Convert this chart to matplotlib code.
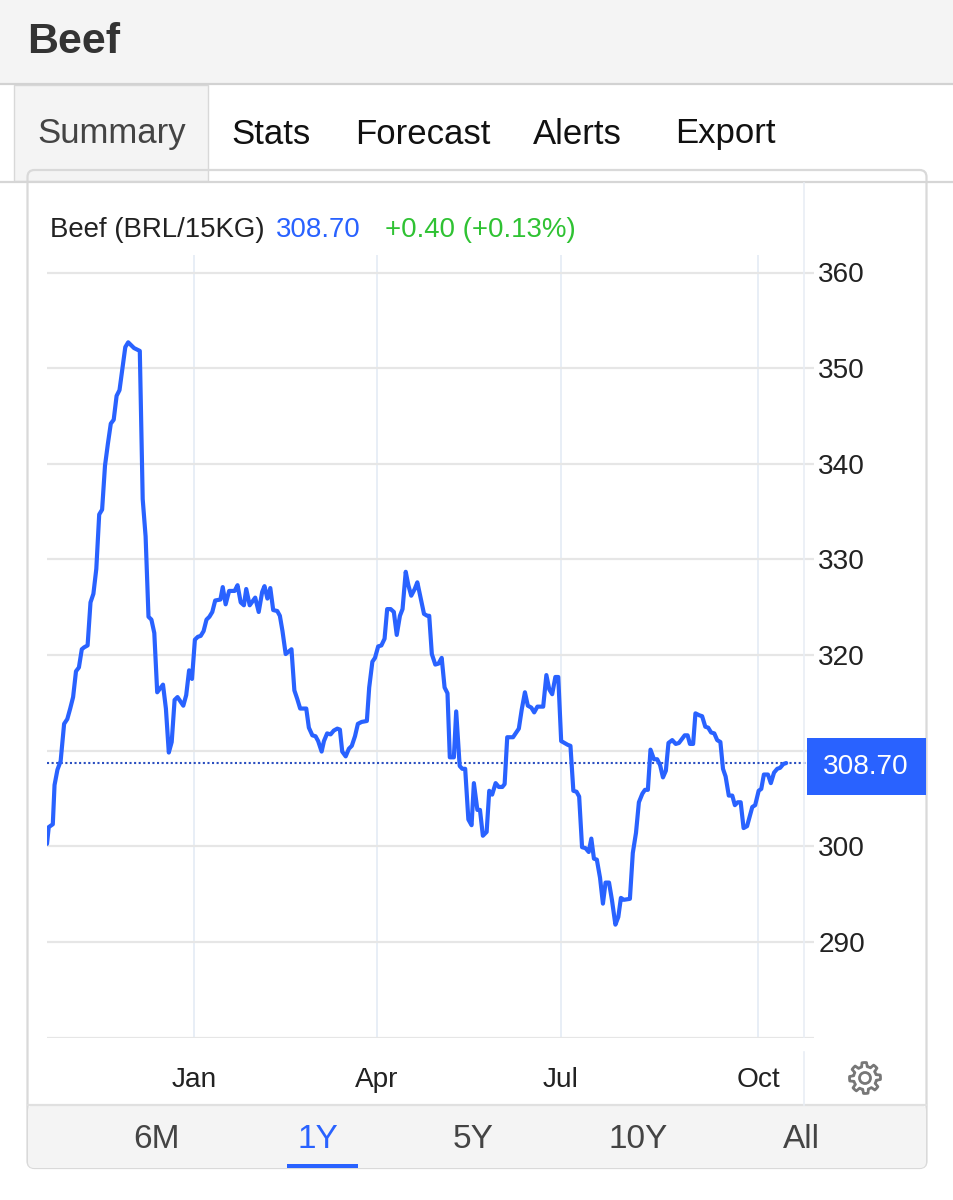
import numpy as np
import matplotlib
matplotlib.use("Agg")
import matplotlib.pyplot as plt
from matplotlib.patches import Rectangle, FancyBboxPatch, Polygon, Circle

plt.rcParams["font.family"] = ["Liberation Sans", "DejaVu Sans"]

BLUE = "#2962ff"
GREEN = "#2fc233"
INK = "#222222"

# Daily price series: session number within the one-year window, and price in BRL/15KG
sessions = [0, 0.6, 2, 2.6, 3.6, 4.7, 5.9, 7, 8, 9, 10, 11, 12, 12.8, 14, 15, 16, 17, 18, 19, 20, 21, 22, 23, 24, 25,
            27, 28, 30, 32, 33, 34, 35, 36, 37, 38, 40, 41, 42, 43, 44, 45, 47, 48, 49, 50, 51, 52, 53, 54, 55, 56,
            57, 58, 59.8, 60.6, 61.6, 62.8, 64.7, 65.7, 66.8, 67.9, 68.7, 69.9, 71.8, 73, 74.2, 75, 76, 77, 78, 79.4,
            80.3, 81.2, 82.3, 84.3, 85.3, 86.3, 87.3, 89.4, 90.3, 91.5, 92.6, 93.5, 94.7, 95.5, 96.6, 97.8, 98.9,
            100.1, 101, 101.8, 103, 104.1, 105.1, 106.2, 107.2, 108.5, 110.3, 111.1, 112.2, 113.1, 114.2, 115.3,
            116.4, 117.3, 118.5, 119.6, 120.6, 121.7, 122.6, 123.7, 124.6, 125.6, 126.8, 127.7, 128.8, 130, 131.1,
            131.8, 132.7, 133.9, 135, 136.1, 137.1, 138.1, 138.9, 140.3, 141.1, 142.3, 143.2, 144.2, 145.3, 146.4,
            147.2, 148.4, 149.3, 150.3, 151.6, 152.5, 153.5, 154.7, 155.8, 157, 157.8, 158.7, 160.7, 162.7, 163.7,
            164.8, 165.8, 167, 168, 169.1, 171.1, 172.2, 173.2, 174.2, 175.3, 176.3, 177.3, 179.6, 180.5, 181.5,
            182.6, 183.5, 184.5, 185.7, 186.8, 187.7, 188.6, 189.6, 190.7, 191.7, 192.6, 193.8, 194.8, 196, 197,
            197.9, 198.9, 201, 202, 203.1, 204.1, 205.3, 206.2, 207.2, 208.1, 209.3, 210.4, 211.4, 212.4, 213.4,
            214.3, 215.6, 216.8, 217.9, 219.9, 220.9, 221.7, 222.8, 223.6, 224.9, 225.9, 227, 228, 229, 230.1,
            231.1, 232.2, 233.1, 234, 235.1, 236.3, 237.2, 238.2, 239.2, 240.2, 241.4, 243.2, 244.2, 245.4, 246.3,
            247.2, 248.6, 249.6, 250.7, 251.8, 252.8, 253.9, 254.9]
prices = [300.25, 302.0, 302.3, 306.4, 308.0, 308.9, 312.8, 313.3, 314.4, 315.6, 318.3, 318.7, 320.6, 320.8, 321.0,
          325.5, 326.4, 329.0, 334.7, 335.2, 339.8, 342.1, 344.2, 344.6, 347.1, 347.7,
          352.2, 352.7, 352.1, 351.8, 336.3, 332.4, 324.0, 323.7, 322.3, 316.1, 316.9, 314.4, 309.8, 310.9, 315.3,
          315.6, 314.7, 315.8, 318.4, 317.5, 321.6, 321.9, 322.0, 322.5, 323.7, 324.0,
          324.5, 325.7, 325.8, 327.1, 325.3, 326.7, 326.7, 327.3, 325.5, 325.2, 326.9, 325.2, 326.0, 324.5, 326.6,
          327.2, 325.9, 327.0, 324.7, 324.6,
          324.1, 322.5, 320.1, 320.6, 316.3, 315.4, 314.4, 314.4, 312.4, 311.6, 311.5, 311.0, 309.9, 311.0, 311.8,
          311.7, 312.1,
          312.3, 312.2, 309.9, 309.4, 310.2, 310.5, 311.5, 312.8, 313.0, 313.1, 316.6, 319.3, 319.7, 320.9, 321.0,
          321.7, 324.8, 324.8, 324.5, 322.1, 324.1, 324.8, 328.7, 327.3, 326.2, 326.9, 327.6, 326.0, 324.3, 324.1,
          324.1, 320.1, 319.0, 319.1, 319.7, 316.6, 316.0, 309.3, 309.3, 314.1, 308.4, 308.1, 308.1, 302.8, 302.2,
          306.6, 303.8, 303.8, 301.1, 301.5, 305.8, 305.4, 306.6, 306.2, 306.2, 306.5, 311.4, 311.4, 312.3, 314.3,
          316.1, 314.7, 314.5, 314.0, 314.6, 314.6, 317.9, 316.4, 315.9, 317.7, 317.7, 311.0, 310.6, 310.5, 305.8,
          305.7, 305.2, 299.9, 299.8, 299.4, 300.8, 298.7, 298.6, 296.7, 294.0, 296.2, 296.2, 294.4, 291.8, 292.6,
          294.6, 294.4, 294.5, 299.3, 301.4, 304.6, 305.5, 305.9, 305.9, 310.1, 309.1, 309.1, 308.5, 307.2, 307.9,
          310.8, 311.1, 310.7, 310.8, 311.6, 311.6, 310.7, 310.7, 313.9, 313.7, 313.6, 312.5, 312.4, 311.9, 311.8,
          311.1, 310.9, 308.1, 307.3, 305.3, 305.3, 304.3, 304.6, 304.6, 301.9, 302.1, 304.1, 304.3, 305.8, 306.0,
          307.5, 307.5, 306.6, 307.7, 308.1, 308.2, 308.6, 308.7]

last_price = 308.70
month_ticks = [50.7, 113.8, 177.2, 245.2]
month_labels = ["Jan", "Apr", "Jul", "Oct"]
price_ticks = [280, 290, 300, 310, 320, 330, 340, 350, 360]
price_labels = ["", "290", "300", "", "320", "330", "340", "350", "360"]
tabs = ["Stats", "Forecast", "Alerts", "Export"]
ranges = ["6M", "1Y", "5Y", "10Y", "All"]

W, H = 954, 1200
fig = plt.figure(figsize=(W / 100, H / 100), dpi=100, facecolor="white")

# Page furniture is laid out in a full-figure axes measured in pixels
ui = fig.add_axes([0, 0, 1, 1], zorder=1)
ui.set_xlim(0, W)
ui.set_ylim(H, 0)
ui.axis("off")

ui.add_patch(Rectangle((0, 0), W, 84, fc="#f4f4f4", ec="none"))
ui.plot([0, W], [84, 84], color="#d2d2d2", lw=1.6)
ui.plot([0, W], [181.5, 181.5], color="#d6d6d6", lw=1.6)
ui.add_patch(Rectangle((14, 85), 194, 96, fc="#f4f4f4", ec="#d8d8d8", lw=1.0))
ui.text(27, 42, "Beef", fontsize=31, fontweight="bold", color="#333333", va="center", ha="left")
ui.text(37, 134, "Summary", fontsize=25, color="#444444", va="center", ha="left")
for label, x in zip(tabs, [231, 355, 533, 675]):
    ui.text(x, 134, label, fontsize=25, color="#111111", va="center", ha="left")

# Card outline and range selector
ui.add_patch(FancyBboxPatch((27.5, 170), 899, 998, boxstyle="round,pad=0,rounding_size=7",
                            fc="none", ec="#d9d9d9", lw=1.6, zorder=1))
ui.add_patch(Rectangle((0, 120), 0, 0, fc="none", ec="none"))
ui.add_patch(FancyBboxPatch((28, 1105), 898, 63, boxstyle="round,pad=0,rounding_size=6",
                            fc="#f4f4f4", ec="none", zorder=1))
ui.plot([28, 926], [1105, 1105], color="#e0e0e0", lw=1.6)
for label, x in zip(ranges, [156.5, 318, 473, 638, 801]):
    ui.text(x, 1140, label, fontsize=24, ha="center", va="center",
            color=BLUE if label == "1Y" else "#444444")
ui.add_patch(Rectangle((287, 1164), 71, 4, fc=BLUE, ec="none"))

# Vertical divider in front of the price scale
ui.plot([804.5, 804.5], [183, 1037], color="#e9eef5", lw=1.2)
ui.plot([804.5, 804.5], [1052, 1105], color="#e9eef5", lw=1.2)

# Legend row
ui.text(50, 230, "Beef (BRL/15KG)", fontsize=19.9, color=INK, va="center", ha="left")
ui.text(276, 230, "308.70", fontsize=19.9, color=BLUE, va="center", ha="left")
ui.text(385, 230, "+0.40 (+0.13%)", fontsize=19.9, color=GREEN, va="center", ha="left")

# Settings gear
n_teeth = 8
theta = np.linspace(0, 2 * np.pi, n_teeth * 8, endpoint=False)
phase = (theta * n_teeth / (2 * np.pi)) % 1
rad = np.where((phase < 0.3) | (phase > 0.8), 15.5, 11.5)
ui.add_patch(Polygon(np.c_[865 + rad * np.sin(theta), 1078 + rad * np.cos(theta)], closed=True,
                     fc="none", ec="#777777", lw=2.0, joinstyle="round"))
ui.add_patch(Circle((865, 1078), 5.5, fc="none", ec="#777777", lw=2.0))

# Price chart
ax = fig.add_axes([47 / W, 1 - 1037.5 / H, (814 - 47) / W, (1037.5 - 255) / H], zorder=2)
ax.patch.set_alpha(0)
ax.set_xlim(0, (814 - 47) / 2.9)
ax.set_ylim(280, 280 + (1037.5 - 255) / 9.5625)
for s in ax.spines.values():
    s.set_visible(False)
ax.set_xticks(month_ticks, month_labels)
ax.set_yticks(price_ticks, price_labels)
ax.yaxis.tick_right()
ax.tick_params(axis="both", length=0, labelsize=20.2, labelcolor=INK)
ax.tick_params(axis="x", pad=21)
ax.tick_params(axis="y", pad=3)
ax.grid(axis="y", color="#e6e6e6", lw=1.6)
ax.grid(axis="x", color="#e8eef6", lw=1.4)
ax.set_axisbelow(True)
ax.axhline(last_price, xmax=(806 - 47) / (814 - 47), color="#2b4fc0", lw=1.5, ls=(0, (1, 1.2)), zorder=3)
ax.plot(sessions, prices, color=BLUE, lw=3.0, solid_joinstyle="round", solid_capstyle="round", zorder=4)

# Last-price tag on the scale
ui.add_patch(Rectangle((807, 738), 119, 57, fc=BLUE, ec="none", zorder=5))
ui.text(866, 767, f"{last_price:.2f}", fontsize=20.2, color="white", ha="center", va="center", zorder=6)
ui.set_zorder(3)
ui.patch.set_alpha(0)

fig.savefig("out.png", dpi=100)
